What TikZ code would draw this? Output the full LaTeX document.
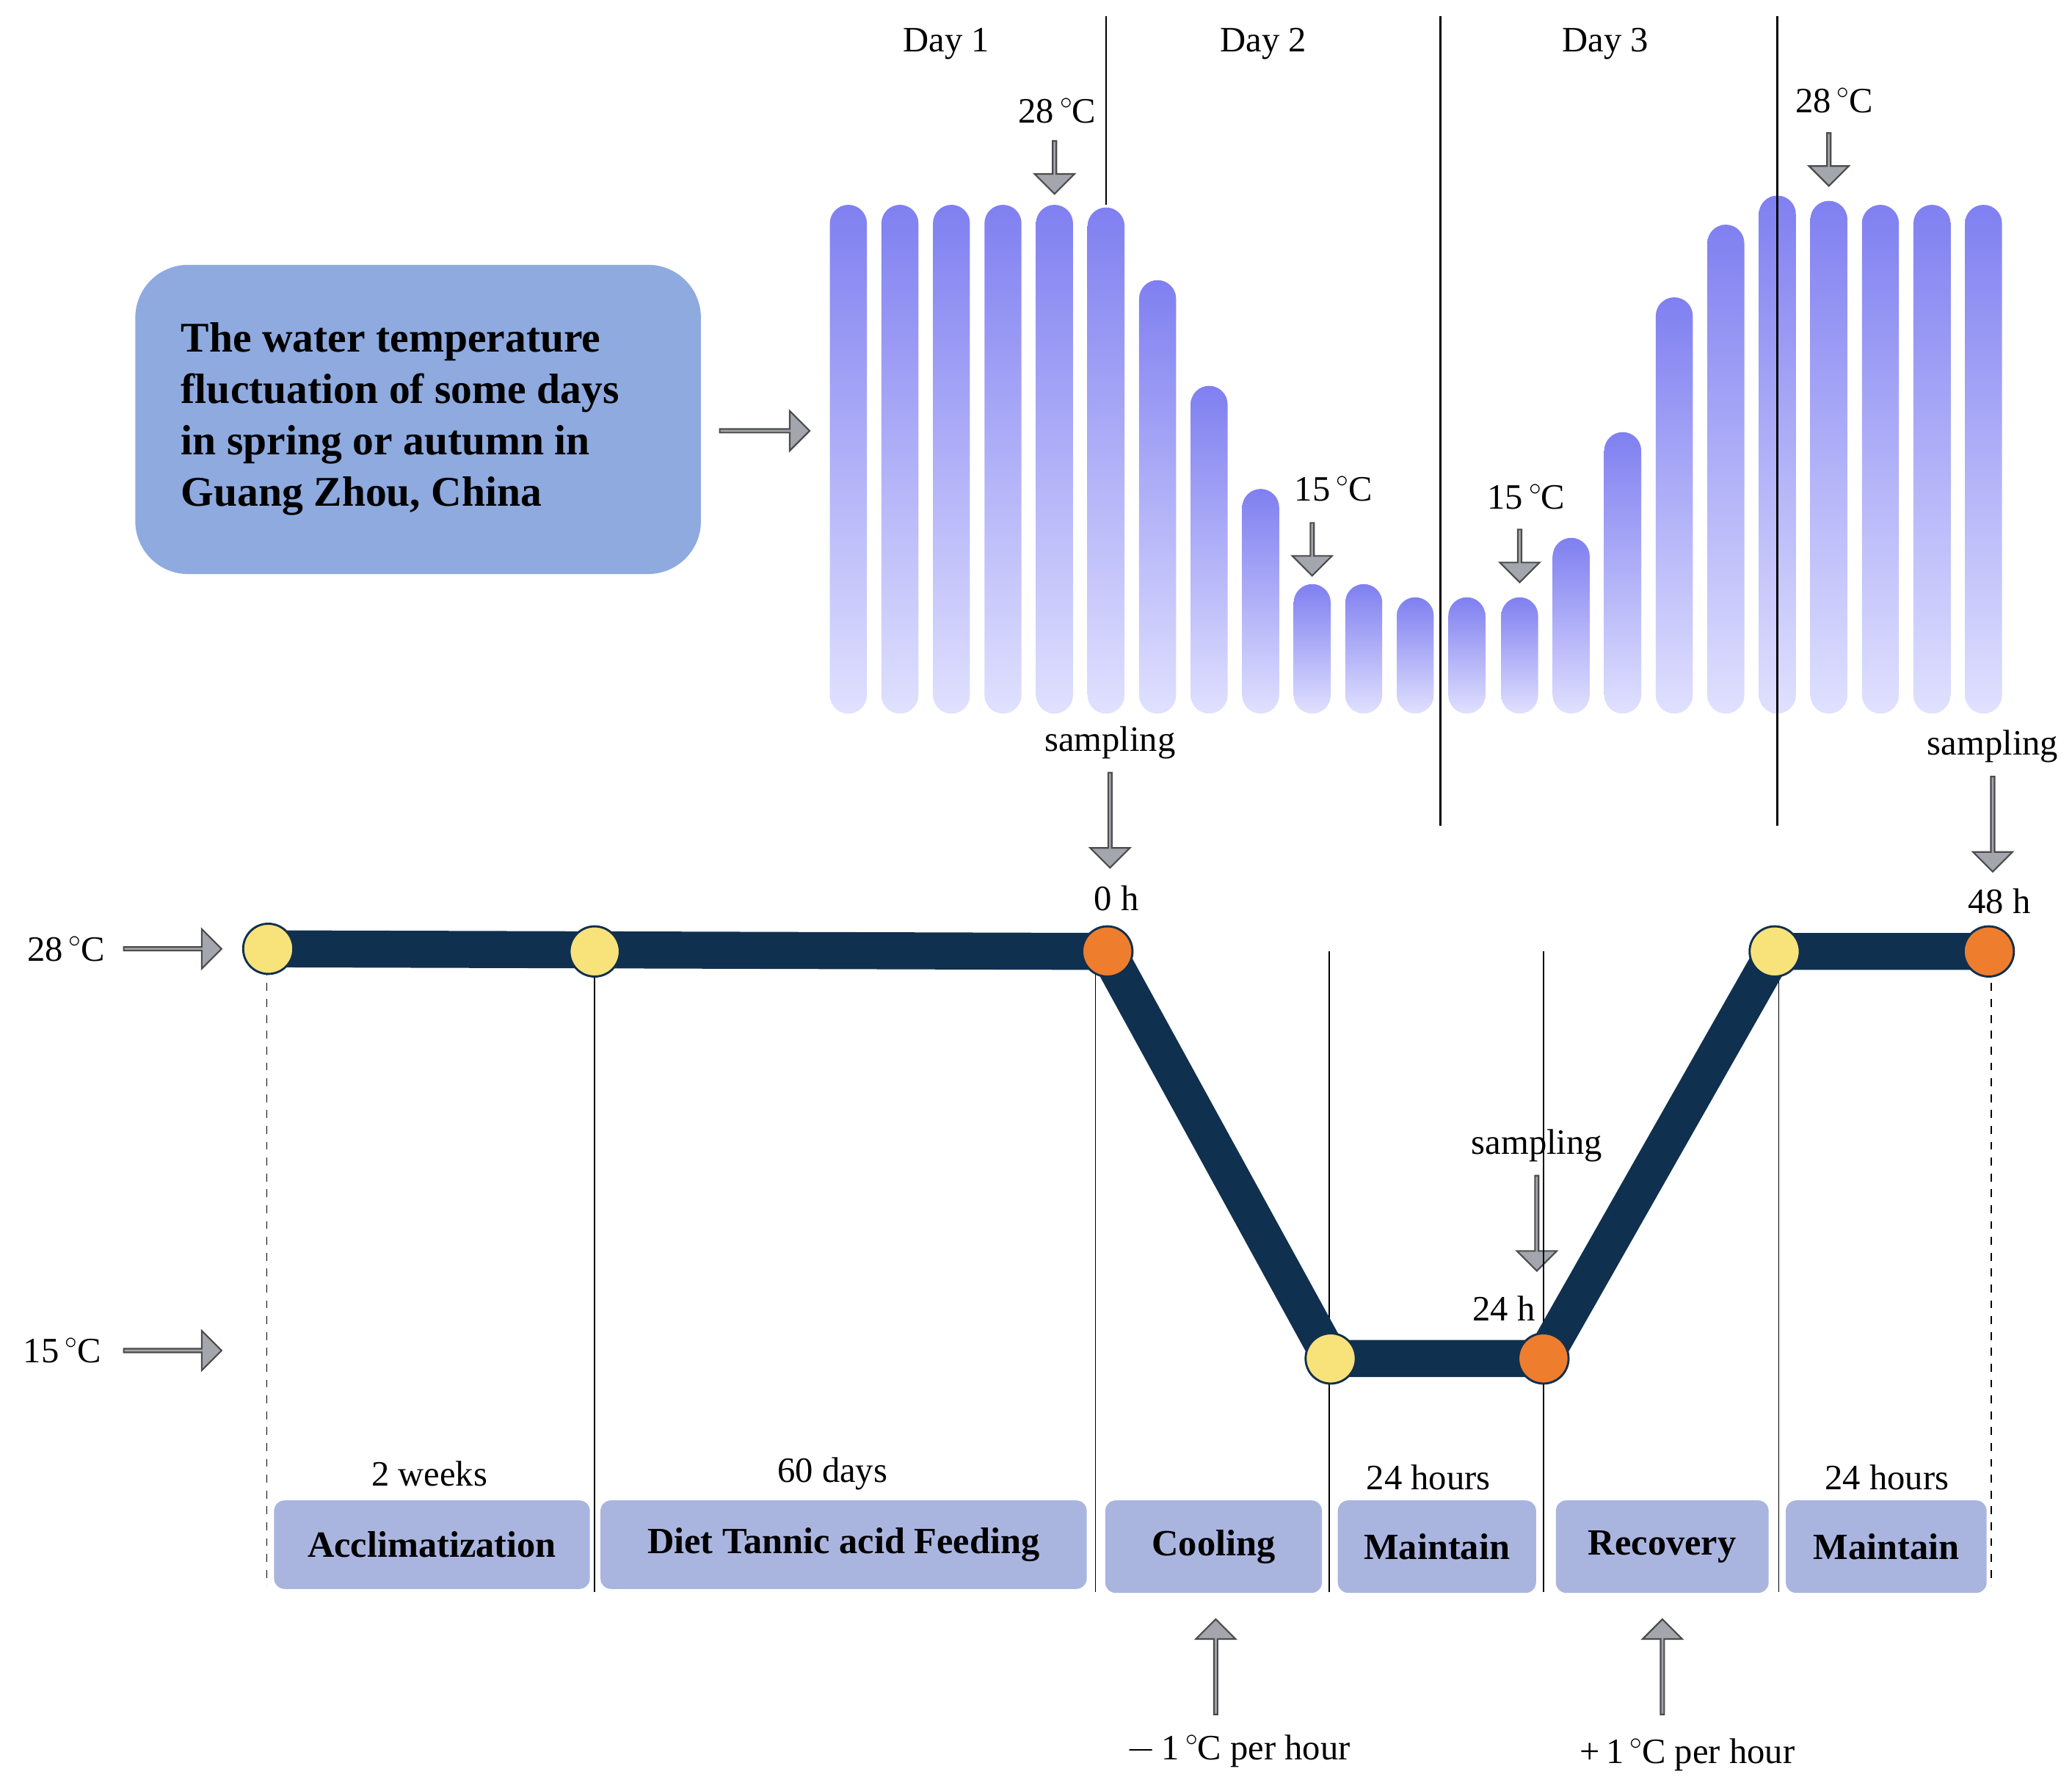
\documentclass[tikz,border=0pt]{standalone}
\usepackage{fontspec}
\setmainfont{Liberation Serif}
\usetikzlibrary{shapes.arrows}
\definecolor{navy}{HTML}{10304F}
\definecolor{boxblue}{HTML}{8EAADF}
\definecolor{lab}{HTML}{AAB5DF}
\definecolor{garr}{HTML}{A3A7AD}
\definecolor{yel}{HTML}{F8E27A}
\definecolor{org}{HTML}{EE7D2E}
\newcommand{\dgC}{\,${}^{\circ}$\kern-0.5ptC}
\begin{document}
\begin{tikzpicture}[x=0.5pt,y=-0.5pt,
 bar/.style={rounded corners=7pt,top color=blue!35!black!20!blue!45!white,bottom color=blue!12!white,draw=none},
 ga/.style={single arrow,fill=garr,draw=black!70,line width=0.6pt,minimum width=15pt,single arrow head extend=3pt,inner sep=0pt},
 lbox/.style={fill=lab,rounded corners=4pt,font=\fontsize{14}{16}\selectfont\bfseries,anchor=north west,inner sep=0pt,align=center},
 t/.style={font=\fontsize{13.5}{16}\selectfont},
 dot/.style={circle,draw=navy,line width=0.8pt,minimum size=19pt,inner sep=0pt}]
\useasboundingbox (0,0) rectangle (1568,1353);
\fill[white] (0,0) rectangle (1568,1353);
% bars
\foreach \x/\t [count=\i] in {642/155,681/155,720/155,759/155,798/155,837/157,876/212,915/292,954/370,993/442,1032/442,1071/452,1110/452,1150/452,1189/407,1228/327,1267/225,1306/170,1345/148,1384/152,1423/155,1462/155,1501/155}
  \shade[bar,top color=blue!55!black!25!blue!50!white] (\x-14,\t) rectangle (\x+14,540);
% day lines
\draw[line width=0.8pt] (837,12) -- (837,155);
\draw[line width=0.8pt] (1090,12) -- (1090,625);
\draw[line width=0.8pt] (1345,12) -- (1345,625);
\node[t] (d1) at (716,33) {Day 1};
\node[t] (d2) at (956,33) {Day 2};
\node[t] (d3) at (1215,33) {Day 3};
% top temps
\node[t] (ta) at (800,84) {28\dgC};
\node[ga,rotate=-90,minimum height=20pt] (aa) at (798,126) {};
\node[t] (tb) at (1009,370) {15\dgC};
\node[ga,rotate=-90,minimum height=20pt] (ab) at (993,415) {};
\node[t] (tc) at (1155,376) {15\dgC};
\node[ga,rotate=-90,minimum height=20pt] (ac) at (1150,420) {};
\node[t] (td) at (1388,76) {28\dgC};
\node[ga,rotate=-90,minimum height=20pt] (ad) at (1384,120) {};
% box
\node[fill=boxblue,rounded corners=20pt,minimum width=214pt,minimum height=117pt,anchor=north west] (box) at (102,200) {};
\node[anchor=west,align=left,font=\fontsize{16}{19.5}\selectfont\bfseries] (boxt) at (130,317) {The water temperature\\fluctuation of some days\\in spring or autumn in\\Guang Zhou, China};
\node[ga,minimum height=34pt] (abox) at (578,326) {};
% sampling
\node[t] (s1) at (840,562) {sampling};
\node[ga,rotate=-90,minimum height=36pt] (as1) at (840,620) {};
\node[t] (h0) at (845,680) {0 h};
\node[t] (s2) at (1508,565) {sampling};
\node[ga,rotate=-90,minimum height=36pt] (as2) at (1508,623) {};
\node[t] (h48) at (1513,682) {48 h};
\node[t] (s3) at (1163,867) {sampling};
\node[ga,rotate=-90,minimum height=36pt] (as3) at (1163,925) {};
\node[t] (h24) at (1138,990) {24 h};
% left temps
\node[t] (l28) at (50,718) {28\dgC};
\node[ga,minimum height=37pt] (al28) at (130,718) {};
\node[t] (l15) at (47,1022) {15\dgC};
\node[ga,minimum height=37pt] (al15) at (130,1022) {};
% verticals
\draw[dashed,line width=0.4pt] (202,720) -- (202,1200);
\draw[dashed,line width=0.4pt] (1507,720) -- (1507,1200);
\foreach \x in {450,829,1006,1168,1346} \draw[line width=0.4pt] (\x,720) -- (\x,1205);
% timeline
\coordinate (p1) at (203,718);
\coordinate (p2) at (450,720);
\coordinate (p3) at (838,720);
\coordinate (p4) at (1007,1028);
\coordinate (p5) at (1168,1028);
\coordinate (p6) at (1343,720);
\coordinate (p7) at (1505,720);
\draw[navy,line width=14pt,line join=round] (p1) -- (p3) -- (p4) -- (p5) -- (p6) -- (p7);
\node[dot,fill=yel] (c1) at (p1) {};
\node[dot,fill=yel] (c2) at (p2) {};
\node[dot,fill=org] (c3) at (p3) {};
\node[dot,fill=yel] (c4) at (p4) {};
\node[dot,fill=org] (c5) at (p5) {};
\node[dot,fill=yel] (c6) at (p6) {};
\node[dot,fill=org] (c7) at (p7) {};
% label boxes
\node[lbox,minimum width=119.5pt,minimum height=33.5pt] (b1) at (207,1135) {Acclimatization};
\node[lbox,minimum width=184pt,minimum height=33.5pt] (b2) at (454,1135) {Diet Tannic acid Feeding};
\node[lbox,minimum width=82pt,minimum height=35pt] (b3) at (836,1135) {Cooling};
\node[lbox,minimum width=75pt,minimum height=35pt] (b4) at (1012,1135) {Maintain};
\node[lbox,minimum width=80.5pt,minimum height=35pt] (b5) at (1177,1135) {Recovery};
\node[lbox,minimum width=76pt,minimum height=35pt] (b6) at (1351,1135) {Maintain};
\node[t] (w2) at (325,1115) {2 weeks};
\node[t] (d60) at (630,1115) {60 days};
\node[t] (h24a) at (1081,1118) {24 hours};
\node[t] (h24b) at (1428,1118) {24 hours};
% bottom arrows
\node[ga,rotate=90,minimum height=36pt] (u1) at (920,1262) {};
\node[ga,rotate=90,minimum height=36pt] (u2) at (1258,1262) {};
\node[t] (m1) at (937,1325) {$-$\,1\dgC\ per hour};
\node[t] (m2) at (1277,1328) {+\,1\dgC\ per hour};
\end{tikzpicture}
\end{document}
